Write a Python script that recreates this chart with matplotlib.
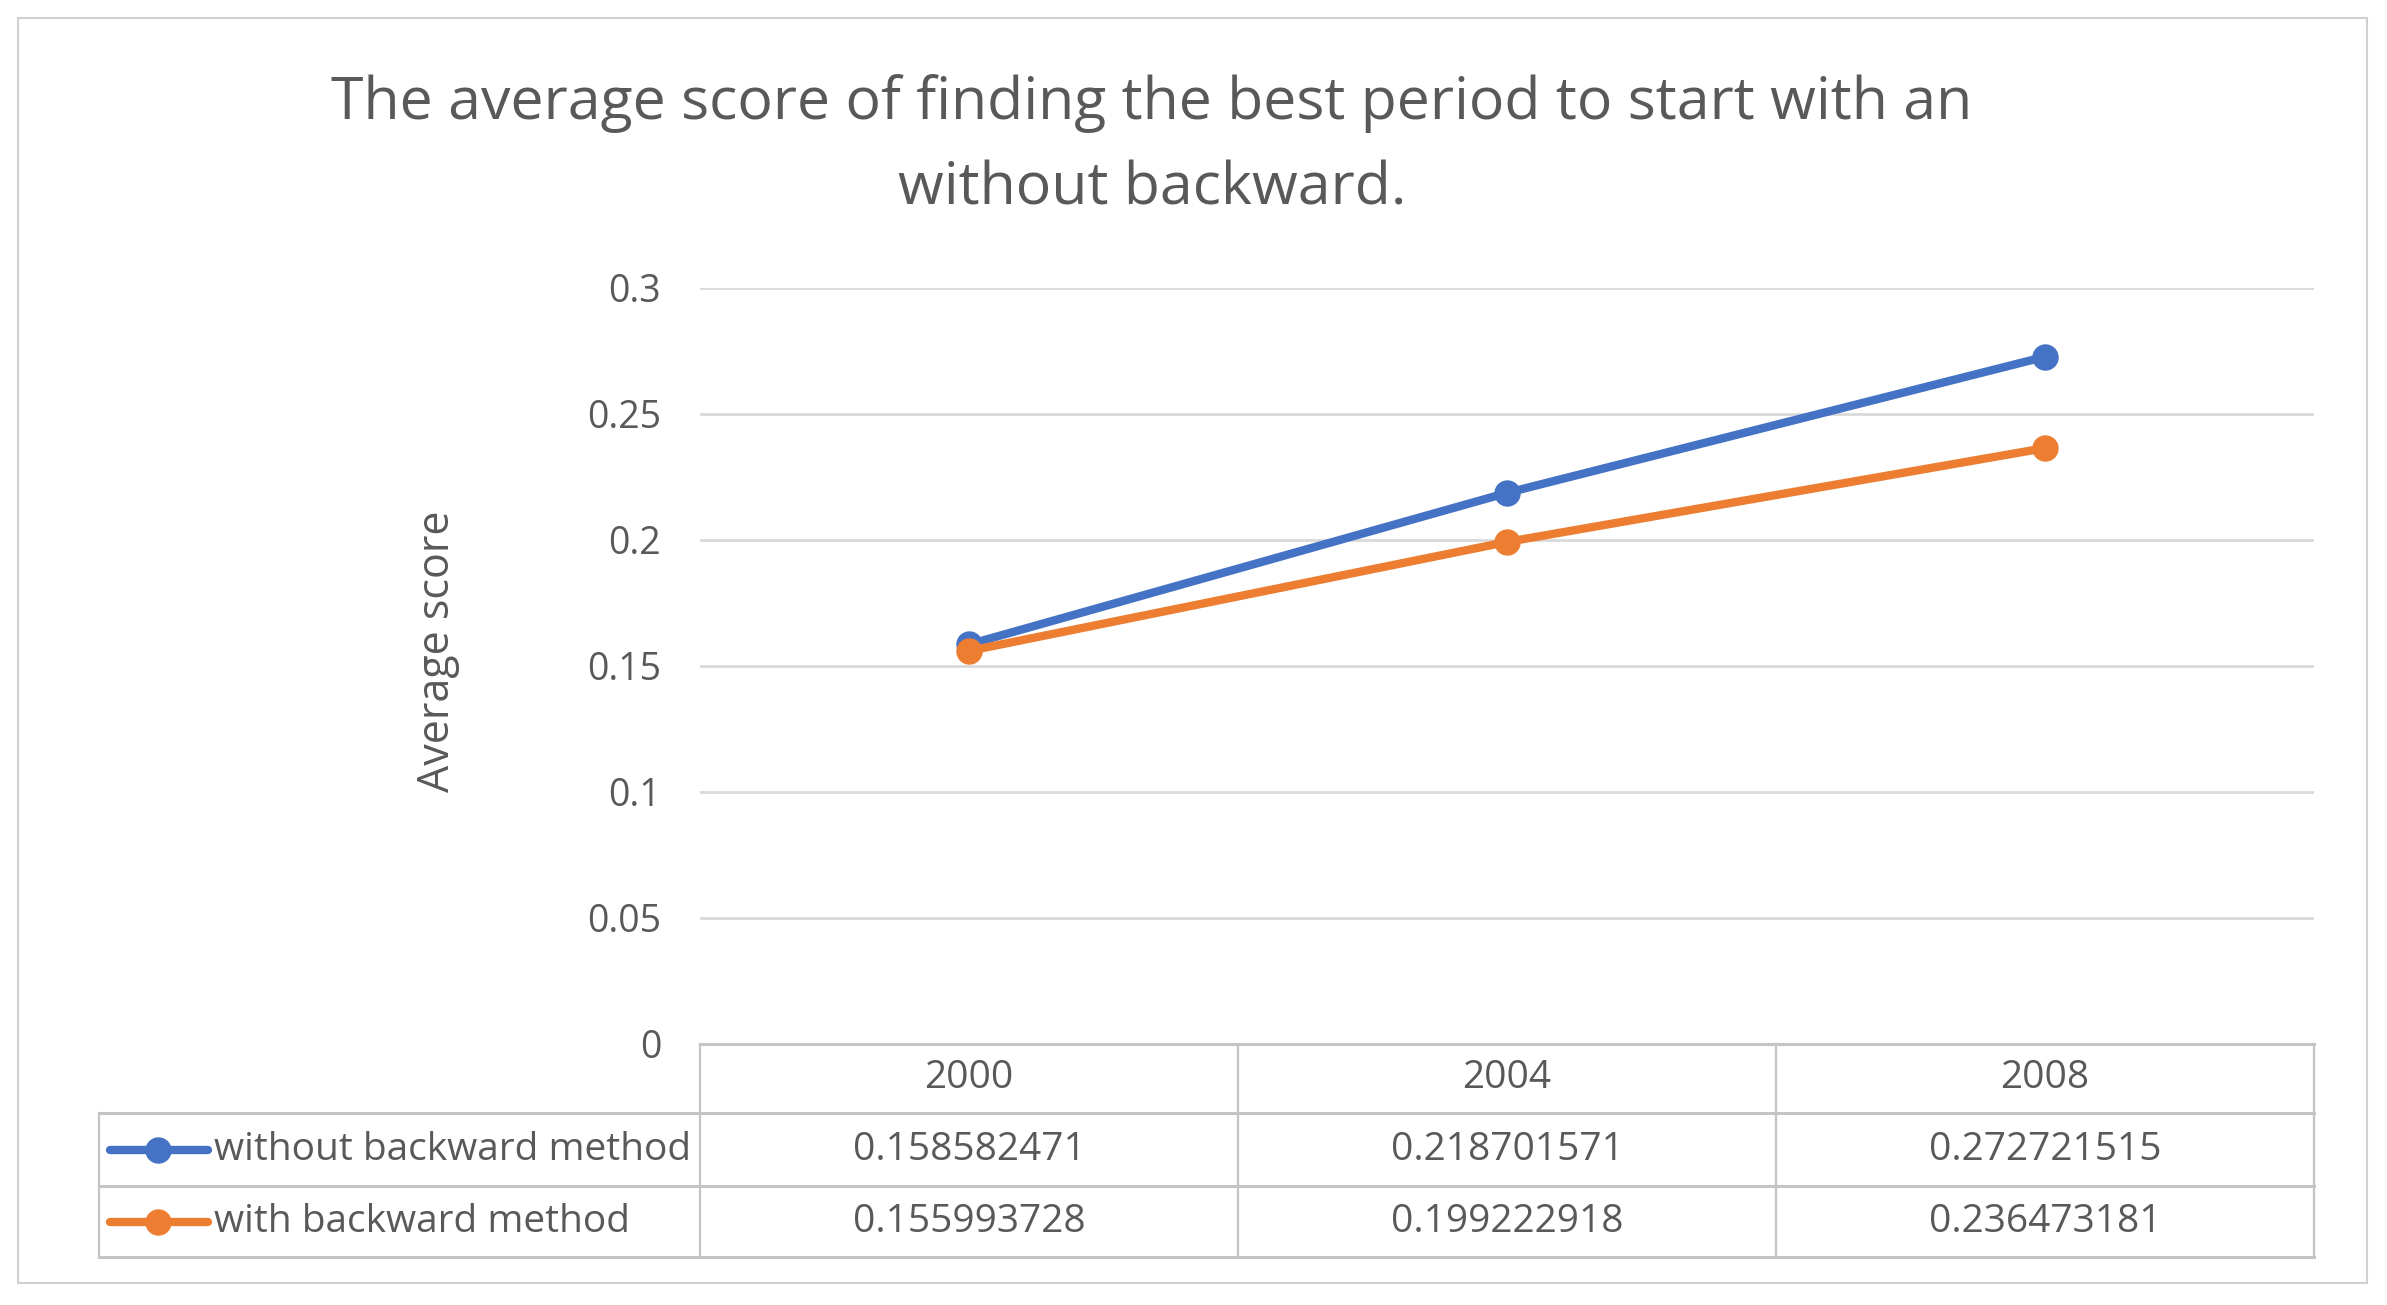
import matplotlib.pyplot as plt
from matplotlib.lines import Line2D
from matplotlib.patches import Rectangle

plt.rcParams['font.family'] = ['Open Sans', 'DejaVu Sans']

# data
years = ['2000', '2004', '2008']
without_backward = [0.158582471, 0.218701571, 0.272721515]
with_backward = [0.155993728, 0.199222918, 0.236473181]
series_names = ['without backward method', 'with backward method']
series_colors = ['#4472C4', '#ED7D31']
yticks = [0, 0.05, 0.1, 0.15, 0.2, 0.25, 0.3]

W, H = 2387, 1305
fig = plt.figure(figsize=(W / 100, H / 100), dpi=100)
text_color = '#595959'
grid_color = '#d9d9d9'
table_color = '#c4c4c4'


def fx(x):
    return x / W


def fy(y):
    return 1 - y / H


# outer frame
fig.add_artist(Rectangle((fx(18), fy(1283)), fx(2367) - fx(18), fy(18) - fy(1283),
                         transform=fig.transFigure, fill=False, edgecolor='#d0d0d0', lw=1.5))

# plot area
left, right, top, bottom = 700, 2314, 288, 1044
ax = fig.add_axes([fx(left), fy(bottom), fx(right) - fx(left), fy(top) - fy(bottom)])
x = range(len(years))
for vals, name, c in zip([without_backward, with_backward], series_names, series_colors):
    ax.plot(x, vals, color=c, lw=6, marker='o', markersize=18, label=name,
            solid_capstyle='round', zorder=3)

ax.set_xlim(-0.5, len(years) - 0.5)
ax.set_ylim(0, 0.3)
ax.set_yticks(yticks)
ax.set_yticklabels(['%g' % t for t in yticks], fontsize=27, color=text_color)
ax.set_xticks([])
ax.tick_params(axis='y', length=0, pad=28)
ax.grid(axis='y', color=grid_color, lw=2)
for s in ax.spines.values():
    s.set_visible(False)

# y label
fig.text(fx(438), fy(651), 'Average score', rotation=90, ha='center', va='center',
         fontsize=31, color=text_color)

# title
fig.text(fx(1152), fy(146), 'The average score of finding the best period to start with an\nwithout backward.',
         ha='center', va='center', fontsize=42.5, color=text_color, linespacing=1.6)

# data table under the plot
row_edges = [1044, 1113, 1186, 1257]
col_edges = [left + i * (right - left) / len(years) for i in range(len(years) + 1)]
tl = 99


def hline(y, x0, x1):
    fig.add_artist(Line2D([fx(x0), fx(x1)], [fy(y), fy(y)], transform=fig.transFigure,
                          color=table_color, lw=2.2))


def vline(xx, y0, y1):
    fig.add_artist(Line2D([fx(xx), fx(xx)], [fy(y0), fy(y1)], transform=fig.transFigure,
                          color=table_color, lw=1.6))


hline(row_edges[0], left, right)
for y in row_edges[1:]:
    hline(y, tl, right)
vline(tl, row_edges[1], row_edges[3])
for xx in col_edges:
    vline(xx, row_edges[0], row_edges[3])

for i, yr in enumerate(years):
    cx = (col_edges[i] + col_edges[i + 1]) / 2
    fig.text(fx(cx), fy((row_edges[0] + row_edges[1]) / 2), yr, ha='center', va='center',
             fontsize=28, color=text_color)

for r, (vals, name, c) in enumerate(zip([without_backward, with_backward], series_names, series_colors)):
    cy = (row_edges[r + 1] + row_edges[r + 2]) / 2
    fig.add_artist(Line2D([fx(110), fx(208)], [fy(cy), fy(cy)], transform=fig.transFigure,
                          color=c, lw=6, solid_capstyle='round'))
    fig.add_artist(Line2D([fx(158)], [fy(cy)], transform=fig.transFigure, color=c,
                          marker='o', markersize=18, lw=0))
    fig.text(fx(214), fy(cy), name, ha='left', va='center', fontsize=28, color=text_color)
    for i, v in enumerate(vals):
        cx = (col_edges[i] + col_edges[i + 1]) / 2
        fig.text(fx(cx), fy(cy), '%.9f' % v, ha='center', va='center', fontsize=28, color=text_color)

fig.savefig('out.png', dpi=100, facecolor='white')
